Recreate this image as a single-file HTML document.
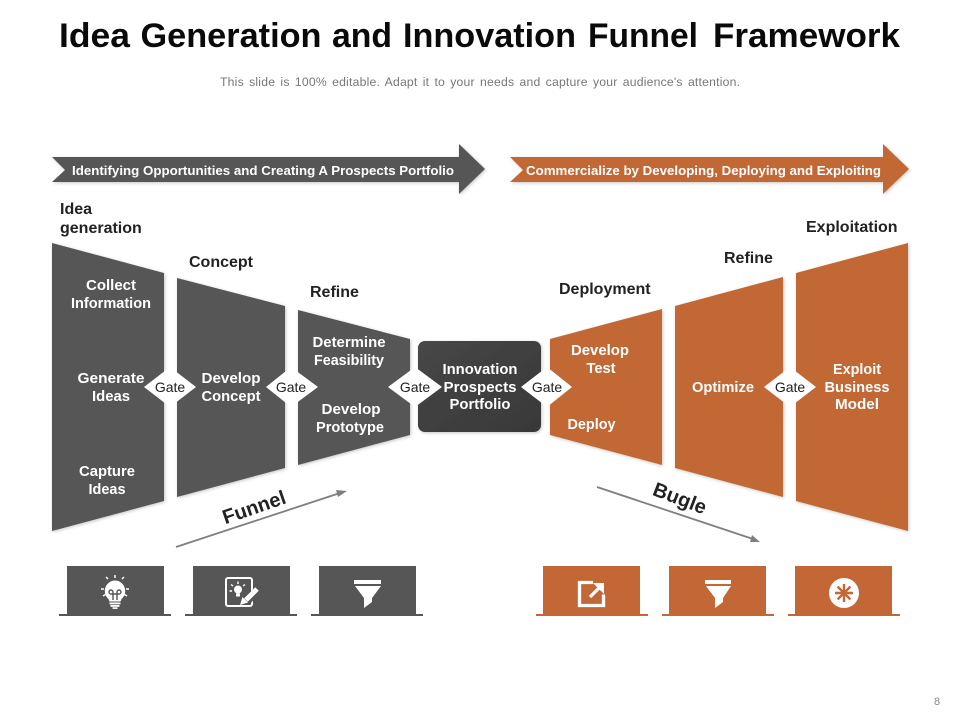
<!DOCTYPE html>
<html lang="en">
<head>
<meta charset="utf-8">
<title>Idea Generation and Innovation Funnel Framework</title>
<style>
html,body{margin:0;padding:0;background:#fff;width:960px;height:720px;overflow:hidden}
svg{display:block}
text{font-family:"Liberation Sans",Arial,sans-serif}
.t{fill:#0a0a0a;font-weight:bold;font-size:34px}
.w{fill:#fff;font-weight:bold;font-size:14.500px;text-anchor:middle}
.h{fill:#222;font-weight:bold;font-size:16px}
.g{fill:#222;font-size:14px;text-anchor:middle}
</style>
</head>
<body>
<svg width="960" height="720" viewBox="0 0 960 720" xmlns="http://www.w3.org/2000/svg">
<defs>
<filter id="s" x="-10%" y="-10%" width="125%" height="125%"><feDropShadow dx="1" dy="1" stdDeviation="1.500" flood-color="#000" flood-opacity="0.220"/></filter>
<linearGradient id="c" x1="0" y1="0" x2="1" y2="1"><stop offset="0" stop-color="#474747"/><stop offset="1" stop-color="#383838"/></linearGradient>
</defs>
<rect width="960" height="720" fill="#fff"/>

<text class="t" x="59" y="47" textLength="71" lengthAdjust="spacingAndGlyphs">Idea</text>
<text class="t" x="140.500" y="47" textLength="181" lengthAdjust="spacingAndGlyphs">Generation</text>
<text class="t" x="332" y="47" textLength="60" lengthAdjust="spacingAndGlyphs">and</text>
<text class="t" x="403" y="47" textLength="173" lengthAdjust="spacingAndGlyphs">Innovation</text>
<text class="t" x="588" y="47" textLength="110" lengthAdjust="spacingAndGlyphs">Funnel</text>
<text class="t" x="713" y="47" textLength="187" lengthAdjust="spacingAndGlyphs">Framework</text>
<text x="220" y="86" font-size="12.200" fill="#777" word-spacing="1.600" textLength="520" lengthAdjust="spacing">This slide is 100% editable. Adapt it to your needs and capture your audience's attention.</text>

<!-- banner arrows -->
<polygon points="52,157 459,157 459,144 485,169 459,194 459,182 52,182 65,170" fill="#565656" filter="url(#s)"/>
<text x="72" y="175" font-size="13" font-weight="bold" fill="#fff" textLength="382" lengthAdjust="spacingAndGlyphs">Identifying Opportunities and Creating A Prospects Portfolio</text>
<polygon points="510,157 883,157 883,144 909,169 883,194 883,182 510,182 523,170" fill="#C26735" filter="url(#s)"/>
<text x="526" y="175" font-size="13" font-weight="bold" fill="#fff" textLength="355" lengthAdjust="spacingAndGlyphs">Commercialize by Developing, Deploying and Exploiting</text>

<!-- stage labels -->
<text class="h" x="60" y="214">Idea</text>
<text class="h" x="60" y="233">generation</text>
<text class="h" x="189" y="267">Concept</text>
<text class="h" x="310" y="297">Refine</text>
<text class="h" x="559" y="294">Deployment</text>
<text class="h" x="724" y="263">Refine</text>
<text class="h" x="806" y="232">Exploitation</text>

<!-- funnel -->
<polygon points="52,243 164,273 164,501 52,531" fill="#565656" filter="url(#s)"/>
<polygon points="177,278 285,306 285,468 177,497" fill="#565656" filter="url(#s)"/>
<polygon points="298,310 410,339 410,435 298,465" fill="#565656" filter="url(#s)"/>
<rect x="418" y="341" width="123" height="91" rx="7" fill="url(#c)" filter="url(#s)"/>
<!-- bugle -->
<polygon points="550,339 662,309 662,465 550,435" fill="#C26735" filter="url(#s)"/>
<polygon points="675,306 783,277 783,497 675,468" fill="#C26735" filter="url(#s)"/>
<polygon points="796,273 908,243 908,531 796,501" fill="#C26735" filter="url(#s)"/>

<!-- shape text -->
<text class="w" x="111" y="290" textLength="50" lengthAdjust="spacingAndGlyphs">Collect</text>
<text class="w" x="111" y="308" textLength="80" lengthAdjust="spacingAndGlyphs">Information</text>
<text class="w" x="111" y="383" textLength="67" lengthAdjust="spacingAndGlyphs">Generate</text>
<text class="w" x="111" y="401" textLength="38" lengthAdjust="spacingAndGlyphs">Ideas</text>
<text class="w" x="107" y="476" textLength="56" lengthAdjust="spacingAndGlyphs">Capture</text>
<text class="w" x="107" y="494" textLength="37" lengthAdjust="spacingAndGlyphs">Ideas</text>
<text class="w" x="231" y="383" textLength="59" lengthAdjust="spacingAndGlyphs">Develop</text>
<text class="w" x="231" y="401" textLength="59" lengthAdjust="spacingAndGlyphs">Concept</text>
<text class="w" x="349" y="347" textLength="73" lengthAdjust="spacingAndGlyphs">Determine</text>
<text class="w" x="349" y="365" textLength="70" lengthAdjust="spacingAndGlyphs">Feasibility</text>
<text class="w" x="351" y="414" textLength="59" lengthAdjust="spacingAndGlyphs">Develop</text>
<text class="w" x="350" y="432" textLength="68" lengthAdjust="spacingAndGlyphs">Prototype</text>
<text class="w" x="480" y="374" textLength="75" lengthAdjust="spacingAndGlyphs">Innovation</text>
<text class="w" x="480" y="392" textLength="73" lengthAdjust="spacingAndGlyphs">Prospects</text>
<text class="w" x="480" y="409" textLength="61" lengthAdjust="spacingAndGlyphs">Portfolio</text>
<text class="w" x="600" y="355" textLength="58" lengthAdjust="spacingAndGlyphs">Develop</text>
<text class="w" x="601" y="373" textLength="29" lengthAdjust="spacingAndGlyphs">Test</text>
<text class="w" x="591.500" y="429" textLength="48" lengthAdjust="spacingAndGlyphs">Deploy</text>
<text class="w" x="723" y="392" textLength="62" lengthAdjust="spacingAndGlyphs">Optimize</text>
<text class="w" x="857" y="374" textLength="48" lengthAdjust="spacingAndGlyphs">Exploit</text>
<text class="w" x="857" y="392" textLength="65" lengthAdjust="spacingAndGlyphs">Business</text>
<text class="w" x="857" y="409" textLength="44" lengthAdjust="spacingAndGlyphs">Model</text>

<!-- gates -->
<g fill="#fff">
<polygon points="144,387 170,367 196,387 170,407"/>
<polygon points="266,387 291,367 318,387 291,407"/>
<polygon points="388,387 415,367 442,387 415,407"/>
<polygon points="521,387 547,367 572,387 547,407"/>
<polygon points="764,387 790,367 816,387 790,407"/>
</g>
<text class="g" x="170" y="392">Gate</text>
<text class="g" x="291" y="392">Gate</text>
<text class="g" x="415" y="392">Gate</text>
<text class="g" x="547" y="392">Gate</text>
<text class="g" x="790" y="392">Gate</text>

<!-- funnel / bugle arrows -->
<line x1="176" y1="547" x2="340" y2="493" stroke="#7f7f7f" stroke-width="1.800"/>
<polygon points="347,491 338,497 336,490" fill="#7f7f7f"/>
<text x="254" y="514" font-size="20" font-weight="bold" fill="#222" text-anchor="middle" transform="rotate(-19 254 507)">Funnel</text>
<line x1="597" y1="487" x2="753" y2="539" stroke="#7f7f7f" stroke-width="1.800"/>
<polygon points="760,542 750,542 752,535" fill="#7f7f7f"/>
<text x="680" y="505" font-size="20" font-weight="bold" fill="#222" text-anchor="middle" transform="rotate(21 680 498)">Bugle</text>

<!-- icon boxes -->
<g fill="#565656">
<rect x="67" y="566" width="97" height="48"/><rect x="59" y="614" width="112" height="2"/>
<rect x="193" y="566" width="97" height="48"/><rect x="185" y="614" width="112" height="2"/>
<rect x="319" y="566" width="97" height="48"/><rect x="311" y="614" width="112" height="2"/>
</g>
<g fill="#C26735">
<rect x="543" y="566" width="97" height="48"/><rect x="536" y="614" width="112" height="2"/>
<rect x="669" y="566" width="97" height="48"/><rect x="662" y="614" width="112" height="2"/>
<rect x="795" y="566" width="97" height="48"/><rect x="788" y="614" width="112" height="2"/>
</g>

<!-- bulb icon -->
<g fill="#fff" stroke="none">
<path d="M115,580.500 a10.500,10.500 0 0 1 6.500,18.500 l-1,2.500 h-11 l-1,-2.500 a10.500,10.500 0 0 1 6.500,-18.500z"/>
<rect x="109.500" y="602.500" width="11" height="1.800"/>
<rect x="110.500" y="605" width="9" height="1.800"/>
<rect x="112.500" y="607.300" width="5" height="1.600"/>
</g>
<g fill="none" stroke="#565656" stroke-width="1.400">
<path d="M113,600 v-8 a2,2 0 1 0 -2,2 h8 a2,2 0 1 0 -2,-2 v8"/>
</g>
<g stroke="#fff" stroke-width="1.500" fill="none">
<path d="M115,575 v3 M106,577 l2,2 M124,577 l-2,2 M101,589 h3 M126,589 h3 M103,596 l2.500,-1.500 M127,596 l-2.500,-1.500"/>
</g>

<!-- idea/edit icon -->
<rect x="226" y="578" width="26" height="28" rx="2" fill="none" stroke="#fff" stroke-width="2"/>
<circle cx="238" cy="589.500" r="4" fill="#fff"/>
<rect x="236" y="593.500" width="4" height="3" fill="#fff"/>
<path d="M238,581.500 v2.500 M231,584.500 l2,1.500 M245,584.500 l-2,1.500 M229.500,591 h2.500" stroke="#fff" stroke-width="1.400"/>
<line x1="260" y1="588" x2="247" y2="601" stroke="#565656" stroke-width="8"/>
<line x1="257" y1="589" x2="246" y2="600" stroke="#fff" stroke-width="5"/>
<polygon points="240,605 242.500,597 248,602.500" fill="#fff"/>

<!-- funnel icons -->
<g fill="#fff">
<rect x="354" y="580" width="27" height="4"/>
<path d="M355,586 H381 L372,598 V602 L364,608 V598 Z"/>
<rect x="705" y="580" width="26" height="4"/>
<path d="M706,586 H731 L723,598 V602 L715,608 V598 Z"/>
</g>

<!-- external link icon -->
<path d="M593,582.500 h-13.500 v23 h24 v-11" fill="none" stroke="#fff" stroke-width="3.300"/>
<line x1="590" y1="597" x2="599" y2="588" stroke="#fff" stroke-width="3.300"/>
<polygon points="593,583 604,583 604,594" fill="#fff"/>

<!-- asterisk icon -->
<circle cx="844" cy="593" r="15" fill="#fff"/>
<g stroke="#C26735" stroke-width="2.400">
<line x1="844" y1="584" x2="844" y2="602"/>
<line x1="835" y1="593" x2="853" y2="593"/>
<line x1="837.600" y1="586.600" x2="850.400" y2="599.400"/>
<line x1="850.400" y1="586.600" x2="837.600" y2="599.400"/>
</g>

<text x="937" y="705" font-size="11" fill="#888" text-anchor="middle">8</text>
</svg>
</body>
</html>
